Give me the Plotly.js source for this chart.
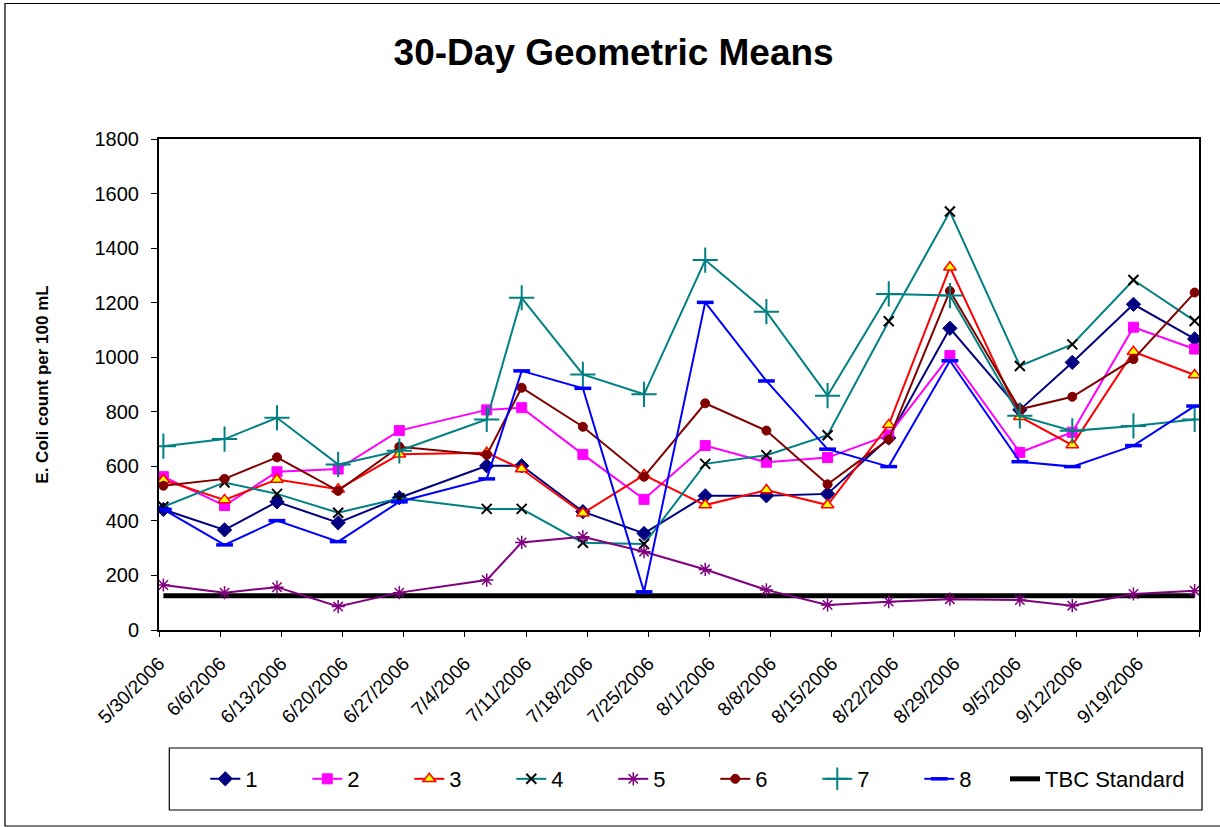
<!DOCTYPE html>
<html>
<head>
<meta charset="utf-8">
<script src="https://cdn.plot.ly/plotly-3.0.1.min.js"></script>
<style>
  html, body { margin: 0; padding: 0; background: #fff; }
  #chart { width: 1220px; height: 827px; }
</style>
</head>
<body>
<div id="chart"></div>
<script>
// Sampling dates
var dates = ['2006-05-30','2006-06-06','2006-06-12','2006-06-19','2006-06-26','2006-07-06',
             '2006-07-10','2006-07-17','2006-07-24','2006-07-31','2006-08-07','2006-08-14',
             '2006-08-21','2006-08-28','2006-09-05','2006-09-11','2006-09-18','2006-09-25'];

// 30-day geometric means per site
var site1 = [442,367,470,393,485,602,602,434,354,492,492,499,704,1106,807,981,1194,1067];
var site2 = [562,456,580,590,731,807,815,644,479,676,615,632,715,1006,651,725,1110,1030];
var site3 = [550,477,552,516,644,650,590,428,568,458,513,458,752,1330,782,678,1020,935];
var site4 = [452,541,499,430,483,444,444,320,315,609,641,714,1132,1534,968,1047,1283,1133];
var site5 = [165,137,157,86,137,183,321,342,287,222,147,92,104,113,110,89,132,144];
var site6 = [529,554,633,510,672,642,888,745,562,831,731,534,699,1243,809,855,993,1237];
var site7 = [674,700,778,607,657,772,1218,937,864,1356,1167,859,1232,1226,785,730,748,772];
var site8 = [442,312,401,324,470,554,950,886,140,1201,913,663,599,987,617,599,676,821];
var tbcStandard = [126,126,126,126,126,126,126,126,126,126,126,126,126,126,126,126,126,126];

// Axis ticks
var tickDates = ['2006-05-30','2006-06-06','2006-06-13','2006-06-20','2006-06-27','2006-07-04',
                 '2006-07-11','2006-07-18','2006-07-25','2006-08-01','2006-08-08','2006-08-15',
                 '2006-08-22','2006-08-29','2006-09-05','2006-09-12','2006-09-19','2006-09-26'];
var tickLabels = ['5/30/2006','6/6/2006','6/13/2006','6/20/2006','6/27/2006','7/4/2006',
                  '7/11/2006','7/18/2006','7/25/2006','8/1/2006','8/8/2006','8/15/2006',
                  '8/22/2006','8/29/2006','9/5/2006','9/12/2006','9/19/2006',''];

var FONT = 'Arial, "Liberation Sans", sans-serif';
// points sit in the middle of each day slot
var xs = dates.map(function (d) { return d + ' 12:00'; });

function series(name, y, lineColor, symbol, mSize, mColor, mLine, mLineW) {
  return {
    type: 'scatter', mode: 'lines+markers', name: name, x: xs, y: y,
    line: { color: lineColor, width: 2 },
    marker: { symbol: symbol, size: mSize, color: mColor,
              line: { color: mLine, width: mLineW } },
    legend: 'legend'
  };
}

var data = [
  { type: 'scatter', mode: 'lines', name: 'TBC Standard', x: xs, y: tbcStandard,
    line: { color: '#000000', width: 5 }, legend: 'legend2' },
  series('1', site1, '#000080', 'diamond', 11, '#000080', '#000080', 1),
  series('2', site2, '#FF00FF', 'square', 10, '#FF00FF', '#FF00FF', 1),
  series('3', site3, '#FF0000', 'triangle-up', 11, '#FFFF00', '#FF0000', 1.5),
  series('4', site4, '#008080', 'x-thin-open', 10, '#000000', '#000000', 2),
  series('5', site5, '#800080', 'asterisk-open', 11, '#800080', '#800080', 1.5),
  series('6', site6, '#800000', 'circle', 9, '#800000', '#800000', 1),
  series('7', site7, '#008080', 'cross-thin-open', 18, '#008080', '#008080', 2),
  series('8', site8, '#0000FF', 'line-ew-open', 12, '#0000FF', '#0000FF', 3.5)
];

var legendFont = { family: FONT, size: 22, color: '#000' };

var layout = {
  width: 1220, height: 827,
  margin: { l: 158.7, r: 21, t: 139, b: 197 },
  paper_bgcolor: '#ffffff', plot_bgcolor: '#ffffff',
  font: { family: FONT, color: '#000000' },
  showlegend: true,
  title: { text: '30-Day Geometric Means', font: { family: FONT, size: 37, weight: 'bold', color: '#000' },
           x: 0.503, xanchor: 'center', xref: 'container', y: 0.937, yanchor: 'middle', yref: 'container' },
  xaxis: {
    type: 'date', range: ['2006-05-30', '2006-09-26'],
    tickmode: 'array', tickvals: tickDates, ticktext: tickLabels,
    tickangle: -45, tickfont: { family: FONT, size: 19, color: '#000' },
    ticks: 'outside', ticklen: 5, tickwidth: 1, tickcolor: '#000', ticklabelstandoff: 8,
    showline: true, linecolor: '#000', linewidth: 2, mirror: true,
    showgrid: false, zeroline: false, fixedrange: true
  },
  yaxis: {
    range: [0, 1800], tickmode: 'linear', tick0: 0, dtick: 200,
    tickfont: { family: FONT, size: 20, color: '#000' },
    ticks: 'outside', ticklen: 6, tickwidth: 1, tickcolor: '#000', ticklabelstandoff: 8,
    showline: true, linecolor: '#000', linewidth: 2, mirror: true,
    showgrid: false, zeroline: false, fixedrange: true,
    title: { text: 'E. Coli count per 100 mL', font: { family: FONT, size: 17, weight: 'bold', color: '#000' }, standoff: 42 }
  },
  legend: {
    orientation: 'h', x: 0.0445, xanchor: 'left', y: -0.3035, yanchor: 'middle',
    font: legendFont, traceorder: 'normal',
    bgcolor: 'rgba(0,0,0,0)', borderwidth: 0, entrywidth: 57, entrywidthmode: 'pixels'
  },
  legend2: {
    orientation: 'h', x: 0.8135, xanchor: 'left', y: -0.3035, yanchor: 'middle',
    font: legendFont,
    bgcolor: 'rgba(0,0,0,0)', borderwidth: 0
  },
  shapes: [
    { type: 'rect', xref: 'paper', yref: 'paper', x0: 0.0099, x1: 1.0029, y0: -0.3666, y1: -0.2403,
      line: { color: '#000', width: 1.2 }, fillcolor: 'rgba(0,0,0,0)', layer: 'above' },
    { type: 'rect', xref: 'paper', yref: 'paper', x0: -0.1481, x1: 1.03, y0: -0.3992, y1: 1.2760,
      line: { color: '#000', width: 1.2 }, fillcolor: 'rgba(0,0,0,0)', layer: 'above' }
  ]
};

Plotly.newPlot('chart', data, layout, { displayModeBar: false, staticPlot: true });
</script>
</body>
</html>
